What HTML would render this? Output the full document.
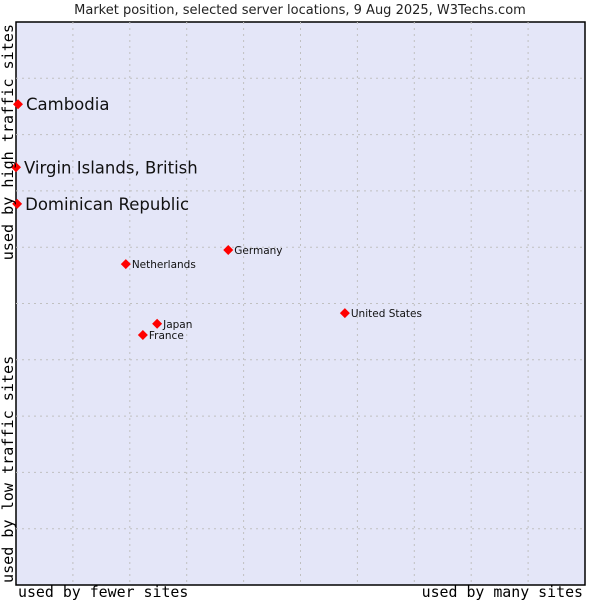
<!DOCTYPE html>
<html><head><meta charset="utf-8"><style>
body{margin:0;background:#fff;}
svg text{font-family:"DejaVu Sans","Liberation Sans",sans-serif;}
.mono{font-family:"DejaVu Sans Mono","Liberation Mono",monospace;}
</style></head><body>
<svg id="c" width="600" height="600" xmlns="http://www.w3.org/2000/svg">
<rect x="0" y="0" width="600" height="600" fill="#fff"/>
<text x="300" y="14" text-anchor="middle" font-size="13" fill="#222">Market position, selected server locations, 9 Aug 2025, W3Techs.com</text>
<rect x="16" y="22" width="569" height="563" fill="#e4e6f8" stroke="#000" stroke-width="1.5"/>
<g id="grid"></g>
<g id="pts"></g>
<text class="mono" x="18" y="597" font-size="14.9" fill="#000">used by fewer sites</text>
<text class="mono" x="583" y="597" font-size="14.9" text-anchor="end" fill="#000">used by many sites</text>
<text class="mono" transform="translate(13,24) rotate(-90)" font-size="15.1" text-anchor="end" fill="#000">used by high traffic sites</text>
<text class="mono" transform="translate(13,583) rotate(-90)" font-size="15.1" fill="#000">used by low traffic sites</text>
</svg>
<script>
const names=["Cambodia","Virgin Islands, British","Dominican Republic","Germany","Netherlands","United States","Japan","France"];
const xs=[0.35,0,0.2,37.3,19.3,57.8,24.8,22.3];
const ys=[85.4,74.2,67.7,59.5,57.0,48.3,46.4,44.4];
const big=[true,true,true,false,false,false,false,false];
const L=16,R=585,T=22,B=585;
const sx=v=>L+v/100*(R-L), sy=v=>B-v/100*(B-T);
const ns="http://www.w3.org/2000/svg";
const g=document.getElementById('grid'), p=document.getElementById('pts');
for(let i=1;i<10;i++){
 const x=sx(i*10), y=sy(i*10);
 let a=document.createElementNS(ns,'line');
 
 
 a.setAttribute('x1',x);a.setAttribute('x2',x);a.setAttribute('y1',T);a.setAttribute('y2',B);
 a.setAttribute('stroke','#c0c0c0');a.setAttribute('stroke-dasharray','2,4');g.appendChild(a);
 let b=document.createElementNS(ns,'line');
 
 
 b.setAttribute('x1',L);b.setAttribute('x2',R);b.setAttribute('y1',y);b.setAttribute('y2',y);
 b.setAttribute('stroke','#c0c0c0');b.setAttribute('stroke-dasharray','2,4');g.appendChild(b);
}
names.forEach((n,i)=>{
 const x=sx(xs[i]), y=sy(ys[i]);
 const d=document.createElementNS(ns,'polygon');
 
 
 const r=5;
 d.setAttribute('points',`${x},${y-r} ${x+r},${y} ${x},${y+r} ${x-r},${y}`);
 d.setAttribute('fill','#f00');p.appendChild(d);
 const t=document.createElementNS(ns,'text');
 
 
 t.setAttribute('x',x+(big[i]?8:6));t.setAttribute('y',y+(big[i]?6:4));
 t.setAttribute('font-size',big[i]?16.5:10.5);t.setAttribute('fill','#111');
 t.textContent=n;p.appendChild(t);
});
</script>
</body></html>
